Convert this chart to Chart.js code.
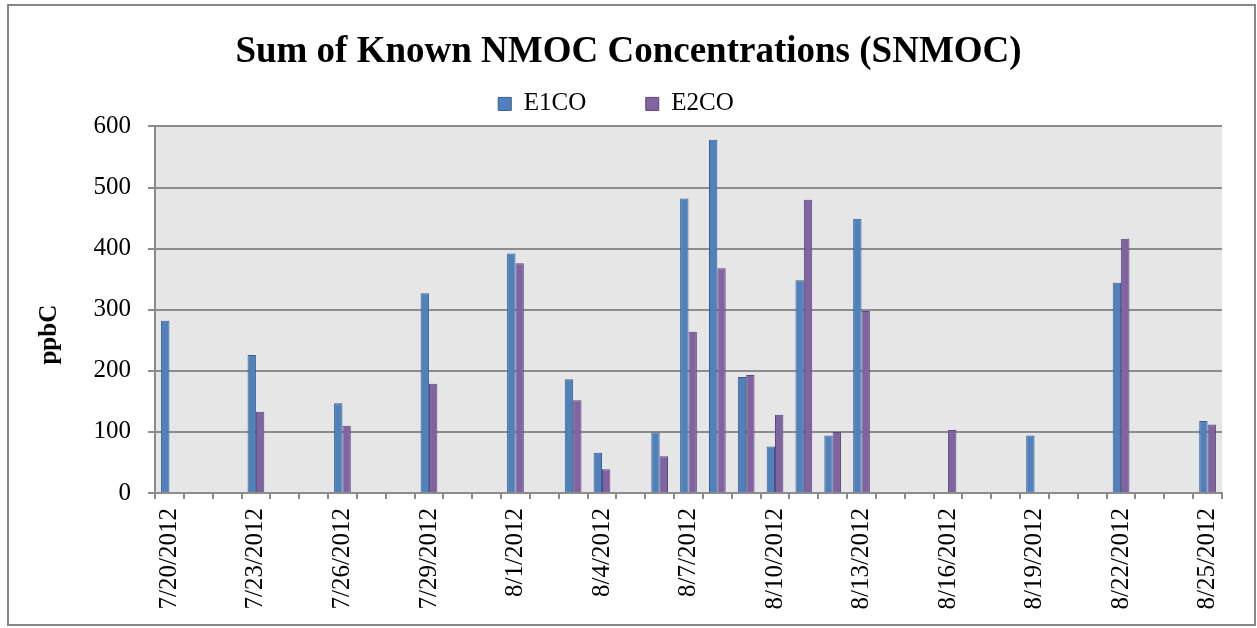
<!DOCTYPE html>
<html lang="en">
  <head>
    <meta charset="UTF-8" />
    <title>Sum of Known NMOC Concentrations (SNMOC)</title>
    <script src="https://cdn.jsdelivr.net/npm/chart.js"></script>
    <style>
      body { margin: 0; background: #fff; }
    </style>
  </head>
  <body>
    <canvas id="snmocChart" width="1257" height="628"></canvas>
    <script>
      // one category per day, 7/20/2012 .. 8/25/2012
      const days = [
        '7/20/2012', '7/21/2012', '7/22/2012', '7/23/2012', '7/24/2012', '7/25/2012',
        '7/26/2012', '7/27/2012', '7/28/2012', '7/29/2012', '7/30/2012', '7/31/2012',
        '8/1/2012', '8/2/2012', '8/3/2012', '8/4/2012', '8/5/2012', '8/6/2012',
        '8/7/2012', '8/8/2012', '8/9/2012', '8/10/2012', '8/11/2012', '8/12/2012',
        '8/13/2012', '8/14/2012', '8/15/2012', '8/16/2012', '8/17/2012', '8/18/2012',
        '8/19/2012', '8/20/2012', '8/21/2012', '8/22/2012', '8/23/2012', '8/24/2012',
        '8/25/2012'
      ];

      const e1co = [
        282, null, null, 226, null, null, 147, null, null, 327, null, null,
        392, null, 186, 66, null, 99, 482, 578, 190, 76, 348, 94,
        449, null, null, null, null, null, 94, null, null, 344, null, null,
        118
      ];

      const e2co = [
        null, null, null, 133, null, null, 110, null, null, 179, null, null,
        376, null, 152, 39, null, 60, 264, 368, 193, 128, 480, 100,
        298, null, null, 103, null, null, null, null, null, 416, null, null,
        112
      ];

      const yTicks = [0, 100, 200, 300, 400, 500, 600];

      const FONT = "'Liberation Serif', 'Times New Roman', serif";
      const GRID = '#8c8c8c';

      const framePlugin = {
        id: 'frame',
        beforeDraw: (chart) => {
          const { ctx, chartArea: a } = chart;
          ctx.save();
          ctx.fillStyle = '#e6e6e6';
          ctx.fillRect(a.left, a.top, a.right - a.left, a.bottom - a.top);
          ctx.restore();
        },
        afterDraw: (chart) => {
          const { ctx, chartArea: a } = chart;
          ctx.save();
          ctx.strokeStyle = '#868686';
          ctx.lineWidth = 2;
          ctx.strokeRect(8, 5, chart.width - 10, chart.height - 8);
          // y axis title
          ctx.translate(50, (a.top + a.bottom) / 2 + 25);
          ctx.rotate(-Math.PI / 2);
          ctx.fillStyle = '#000';
          ctx.font = 'bold 25px ' + FONT;
          ctx.textAlign = 'center';
          ctx.textBaseline = 'middle';
          ctx.fillText('ppbC', 0, 0);
          ctx.restore();
        },
      };

      // extra trailing space widens the gap between legend items
      const legendPad = ['\u2003\u2002\u2009', '\u2003'];

      new Chart(document.getElementById('snmocChart'), {
        type: 'bar',
        data: {
          labels: days,
          datasets: [
            {
              label: 'E1CO',
              data: e1co,
              backgroundColor: '#4f81bd',
              borderColor: '#385d8a',
              borderWidth: 1,
            },
            {
              label: 'E2CO',
              data: e2co,
              backgroundColor: '#8064a2',
              borderColor: '#5c4776',
              borderWidth: 1,
            },
          ],
        },
        options: {
          responsive: false,
          animation: false,
          categoryPercentage: 0.58,
          barPercentage: 1.0,
          layout: { padding: { left: 35, right: 35, bottom: 0 } },
          plugins: {
            title: {
              display: true,
              text: 'Sum of Known NMOC Concentrations (SNMOC)',
              color: '#000',
              font: { family: FONT, size: 37, weight: 'bold' },
              padding: { top: 30, bottom: 0 },
            },
            legend: {
              position: 'top',
              labels: {
                color: '#000',
                font: { family: FONT, size: 25 },
                boxWidth: 13,
                boxHeight: 13,
                padding: 17,
                generateLabels: (chart) =>
                  Chart.defaults.plugins.legend.labels
                    .generateLabels(chart)
                    .map((l, i) => ({ ...l, text: l.text + legendPad[i] })),
              },
            },
            tooltip: { enabled: false },
          },
          scales: {
            x: {
              afterFit: (scale) => { scale.height = 135; },
              grid: {
                display: true,
                drawOnChartArea: false,
                drawTicks: true,
                tickLength: 6,
                color: GRID,
                lineWidth: 2,
                offset: true,
              },
              border: { display: true, color: GRID, width: 2 },
              ticks: {
                autoSkip: false,
                maxRotation: 90,
                minRotation: 90,
                padding: 9,
                color: '#000',
                font: { family: FONT, size: 25 },
                callback: function (value, index) {
                  return index % 3 === 0 ? days[index] : '';
                },
              },
            },
            y: {
              min: yTicks[0],
              max: yTicks[yTicks.length - 1],
              afterFit: (scale) => { scale.width = 120; },
              afterBuildTicks: (scale) => {
                scale.ticks = yTicks.map((v) => ({ value: v }));
              },
              grid: {
                color: GRID,
                lineWidth: 2,
                tickLength: 7,
              },
              border: { display: true, color: GRID, width: 2 },
              ticks: {
                padding: 17,
                color: '#000',
                font: { family: FONT, size: 25 },
              },
            },
          },
        },
        plugins: [framePlugin],
      });
    </script>
  </body>
</html>
